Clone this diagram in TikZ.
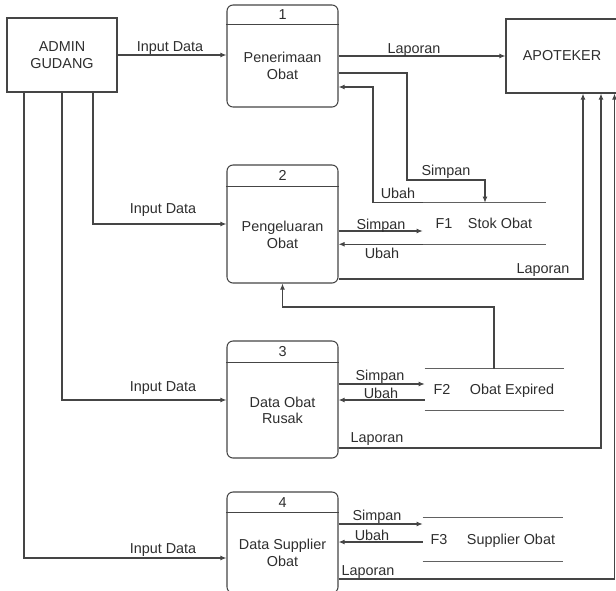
\documentclass[tikz,border=0pt]{standalone}
\usepackage{fontspec}
\setmainfont{Liberation Sans}
\usetikzlibrary{arrows.meta,calc}
\definecolor{ink}{HTML}{454545}
\definecolor{txt}{HTML}{2E2E2E}
\begin{document}
\begin{tikzpicture}[x=0.75pt,y=-0.75pt,
  font=\fontsize{10.8}{12.5}\selectfont, text=txt,
  line/.style={draw=ink, line width=0.8pt},
  flow/.style={line, -{Latex[length=4.5pt,width=3.6pt]}},
  ext/.style={line, rectangle, minimum width=82.5pt, minimum height=55.5pt, align=center, inner sep=0pt},
  proc/.style={line, rectangle, rounded corners=4.5pt, minimum width=83.25pt, inner sep=0pt},
  body/.style={align=center, inner sep=0pt},
  lbl/.style={inner sep=0pt, text height=7.7pt, text depth=0pt},
  store/.style={rectangle, inner sep=0pt},
  storeline/.style={draw=ink!85, line width=0.8pt}
]
\useasboundingbox (0,0) rectangle (616,590);
\clip (0,0) rectangle (616,590);

% external entities
\node[ext] (admin) at (62,55) {ADMIN\\GUDANG};
\node[ext, minimum width=84pt] (apo) at (562,56) {APOTEKER};

% processes: box, header rule, number, name
\node[proc, minimum height=76.5pt] (p1) at (282.5,56) {};
\draw[line] ([yshift=-15pt]p1.north west) -- ([yshift=-15pt]p1.north east);
\node[lbl] (p1n) at ([yshift=-7.5pt]p1.north) {1};
\node[body] (p1t) at ([yshift=-7.5pt]p1.center) {Penerimaan\\Obat};

\node[proc, minimum height=88.5pt] (p2) at (282.5,224) {};
\draw[line] ([yshift=-16.5pt]p2.north west) -- ([yshift=-16.5pt]p2.north east);
\node[lbl] (p2n) at ([yshift=-8.25pt]p2.north) {2};
\node[body] (p2t) at ([yshift=-8.25pt]p2.center) {Pengeluaran\\Obat};

\node[proc, minimum height=87.75pt] (p3) at (282.5,399.5) {};
\draw[line] ([yshift=-16.5pt]p3.north west) -- ([yshift=-16.5pt]p3.north east);
\node[lbl] (p3n) at ([yshift=-8.25pt]p3.north) {3};
\node[body] (p3t) at ([yshift=-8.25pt]p3.center) {Data Obat\\Rusak};

\node[proc, minimum height=75.75pt] (p4) at (282.5,542.5) {};
\draw[line] ([yshift=-15.75pt]p4.north west) -- ([yshift=-15.75pt]p4.north east);
\node[lbl] (p4n) at ([yshift=-7.9pt]p4.north) {4};
\node[body] (p4t) at ([yshift=-7.9pt]p4.center) {Data Supplier\\Obat};

% data stores
\node[store, minimum width=92.25pt, minimum height=30.75pt] (f1) at (484.5,223.5) {};
\draw[storeline] (f1.north west) -- (f1.north east) (f1.south west) -- (f1.south east);
\node[lbl] (f1id) at (444,223) {F1};
\node[lbl] (f1nm) at (500,223) {Stok Obat};

\node[store, minimum width=104.25pt, minimum height=30.75pt] (f2) at (494.5,389.5) {};
\draw[storeline] (f2.north west) -- (f2.north east) (f2.south west) -- (f2.south east);
\node[lbl] (f2id) at (442,389) {F2};
\node[lbl] (f2nm) at (512,389) {Obat Expired};

\node[store, minimum width=105pt, minimum height=32.25pt] (f3) at (493,539.5) {};
\draw[storeline] (f3.north west) -- (f3.north east) (f3.south west) -- (f3.south east);
\node[lbl] (f3id) at (439,539) {F3};
\node[lbl] (f3nm) at (511,539) {Supplier Obat};

% process 1 flows
\draw[flow] (admin.east) -- (admin.east -| p1.west);
\node[lbl] (l1a) at (170,46) {Input Data};
\draw[flow] (p1.east) -- (apo.west);
\node[lbl] (l1b) at (414,48) {Laporan};
\draw[flow] (p1.east |- 0,73) -| (407,180) -| (485,0 |- f1.north);
\node[lbl] (l1c) at (446,170) {Simpan};
\draw[flow] (f1.north west) -| (373,87) -- (p1.east |- 0,87);
\node[lbl] (l1d) at (398,193) {Ubah};

% process 2 flows
\draw[flow] (93,0 |- admin.south) |- (p2.west);
\node[lbl] (l2a) at (163,208) {Input Data};
\draw[flow] (p2.east |- 0,231) -- (f1.west |- 0,231);
\node[lbl] (l2b) at (381,224) {Simpan};
\draw[flow] (f1.south west) -- (p2.east |- f1.south west);
\node[lbl] (l2c) at (382,253) {Ubah};
\draw[flow] (p2.east |- 0,279) -| (583,0 |- apo.south);
\node[lbl] (l2d) at (543,268) {Laporan};
\draw[flow] (494,0 |- f2.north) |- (p2.south |- 0,307) -- (p2.south);

% process 3 flows
\draw[flow] (admin.south) |- (p3.west |- 0,400);
\node[lbl] (l3a) at (163,386) {Input Data};
\draw[flow] (p3.east |- 0,384) -- (f2.west |- 0,384);
\node[lbl] (l3b) at (380,375) {Simpan};
\draw[flow] (f2.west |- 0,400) -- (p3.east |- 0,400);
\node[lbl] (l3c) at (381,393) {Ubah};
\draw[flow] (p3.east |- 0,448) -| (601,0 |- apo.south);
\node[lbl] (l3d) at (377,437) {Laporan};

% process 4 flows
\draw[flow] (24,0 |- admin.south) |- (p4.west |- 0,558);
\node[lbl] (l4a) at (163,548) {Input Data};
\draw[flow] (p4.east |- 0,524) -- (f3.west |- 0,524);
\node[lbl] (l4b) at (377,515) {Simpan};
\draw[flow] (f3.west |- 0,542) -- (p4.east |- 0,542);
\node[lbl] (l4c) at (372,535) {Ubah};
\draw[flow] (p4.east |- 0,579) -| (614.5,0 |- apo.south);
\node[lbl] (l4d) at (368,570) {Laporan};
\end{tikzpicture}
\end{document}
